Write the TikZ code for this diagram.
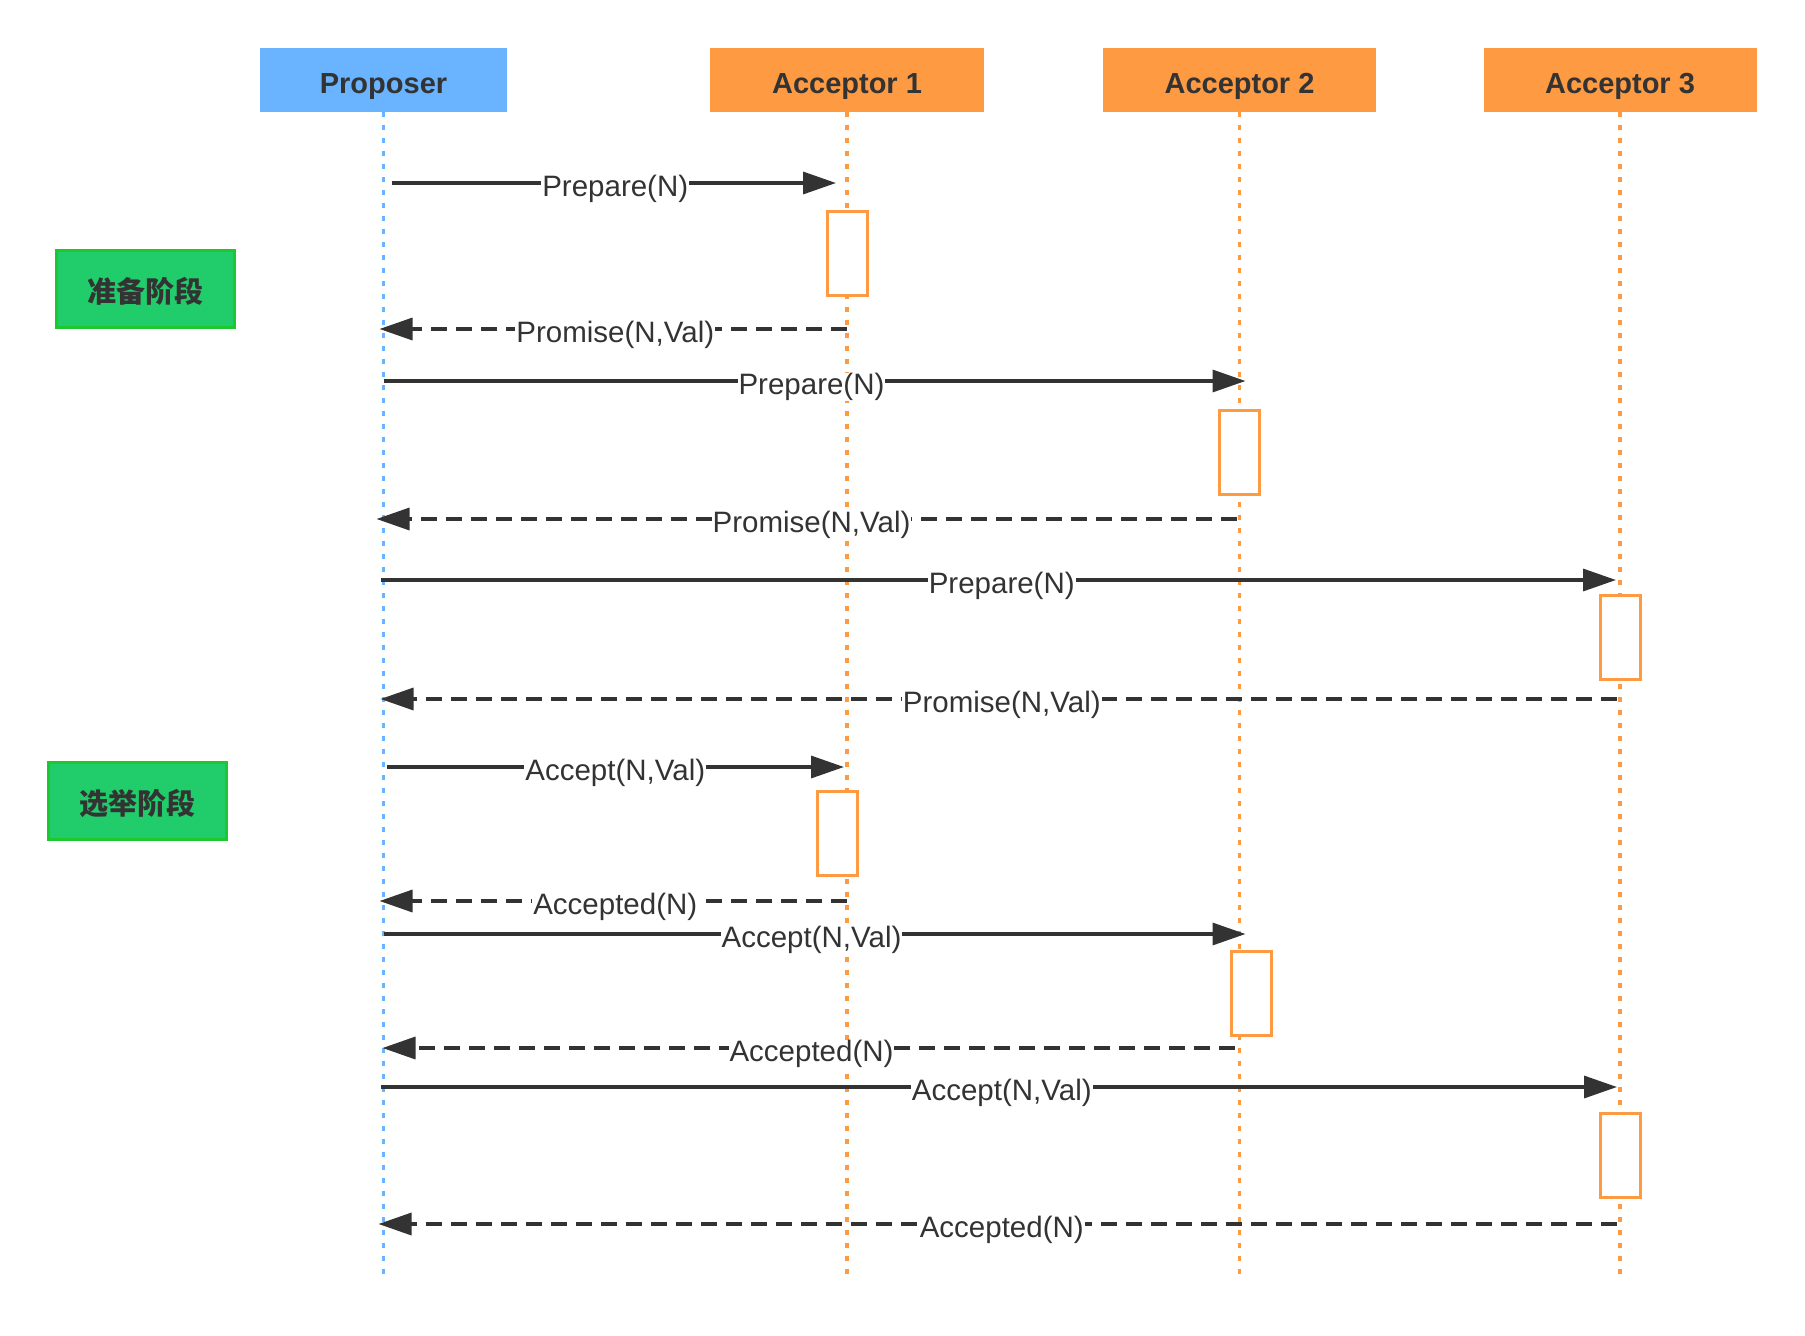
\documentclass[tikz,border=0pt]{standalone}
\usepackage{fontspec}
\setmainfont{Liberation Sans}
\newfontfamily\cjk{Noto Sans CJK SC}
\usetikzlibrary{arrows.meta}

\definecolor{ink}{HTML}{333333}
\definecolor{propblue}{HTML}{69B3FF}
\definecolor{accorange}{HTML}{FD9A42}
\definecolor{phasegreen}{HTML}{21CC6A}
\definecolor{phaseline}{HTML}{1DC82E}

\tikzset{
  head/.style={fill=#1, minimum height=64pt, inner sep=0pt, text=ink,
    text height=27pt, text depth=0pt, font=\bfseries\fontsize{29}{32}\selectfont},
  life/.style={line width=3.5pt, dash pattern=on 5pt off 8pt},
  act/.style={draw=accorange, fill=white, line width=3pt, minimum width=40pt,
    minimum height=84pt, inner sep=0pt},
  phase/.style={draw=phaseline, fill=phasegreen, line width=3pt, minimum width=178pt,
    minimum height=77pt, text=ink, text height=28pt, text depth=0pt,
    font=\cjk\bfseries\fontsize{29}{30}\selectfont},
  call/.style={draw=ink, line width=3.4pt, -{Triangle[length=33pt,width=22pt]}},
  reply/.style={call, dash pattern=on 16pt off 9pt},
  lbl/.style={midway, fill=white, inner xsep=1pt, inner ysep=0pt, yshift=-6pt,
    text=ink, font=\fontsize{29.5}{32}\selectfont}
}

\begin{document}
\begin{tikzpicture}[x=1pt,y=-1pt]
\useasboundingbox (0,0) rectangle (1805,1336);

% participants
\node[head=propblue, minimum width=247pt] (P) at (383.5,80) {Proposer};
\node[head=accorange, minimum width=274pt] (A1) at (847,80) {Acceptor 1};
\node[head=accorange, minimum width=273pt] (A2) at (1239.5,80) {Acceptor 2};
\node[head=accorange, minimum width=273pt] (A3) at (1620,80) {Acceptor 3};

% lifelines
\coordinate (bot) at (0,1278);
\draw[life, propblue] (P.south) -- (P.south |- bot);
\foreach \a in {A1,A2,A3}
  \draw[life, accorange] (\a.south) -- (\a.south |- bot);

% phases
\node[phase] (prep) at (145,288.5) {准备阶段};
\node[phase] (elect) at (137,800.5) {选举阶段};

% activations
\node[act] (act1) at (847,253) {};
\node[act] (act2) at (1239,452) {};
\node[act] (act3) at (1620,637) {};
\node[act] (act4) at (837.5,833.5) {};
\node[act] (act5) at (1251,993.5) {};
\node[act] (act6) at (1620,1155) {};

% message rows
\coordinate (m1) at (0,183);
\coordinate (m2) at (0,329);
\coordinate (m3) at (0,381);
\coordinate (m4) at (0,519);
\coordinate (m5) at (0,580);
\coordinate (m6) at (0,699);
\coordinate (m7) at (0,767);
\coordinate (m8) at (0,901);
\coordinate (m9) at (0,934);
\coordinate (m10) at (0,1048);
\coordinate (m11) at (0,1087);
\coordinate (m12) at (0,1224);

% prepare phase
\draw[call, shorten <=8pt, shorten >=11pt] (P |- m1) -- (A1 |- m1) node[lbl] {Prepare(N)};
\draw[reply, shorten >=-4pt] (A1 |- m2) -- (P |- m2) node[lbl] {Promise(N,Val)};
\draw[call, shorten >=-6pt] (P |- m3) -- (A2 |- m3) node[lbl] {Prepare(N)};
\draw[reply, shorten <=3pt, shorten >=-7pt] (A2 |- m4) -- (P |- m4) node[lbl] {Promise(N,Val)};
\draw[call, shorten <=-3pt, shorten >=4pt] (P |- m5) -- (A3 |- m5) node[lbl] {Prepare(N)};
\draw[reply, shorten <=3pt, shorten >=-3pt] (A3 |- m6) -- (P |- m6) node[lbl] {Promise(N,Val)};

% accept phase
\draw[call, shorten <=3pt, shorten >=3pt] (P |- m7) -- (A1 |- m7) node[lbl] {Accept(N,Val)};
\draw[reply, shorten >=-4pt] (A1 |- m8) -- (P |- m8) node[lbl] {Accepted(N)};
\draw[call, shorten >=-6pt] (P |- m9) -- (A2 |- m9) node[lbl] {Accept(N,Val)};
\draw[reply, shorten <=5pt, shorten >=-1pt] (A2 |- m10) -- (P |- m10) node[lbl] {Accepted(N)};
\draw[call, shorten <=-3pt, shorten >=3pt] (P |- m11) -- (A3 |- m11) node[lbl] {Accept(N,Val)};
\draw[reply, shorten <=3pt, shorten >=-5pt] (A3 |- m12) -- (P |- m12) node[lbl] {Accepted(N)};
\end{tikzpicture}
\end{document}
